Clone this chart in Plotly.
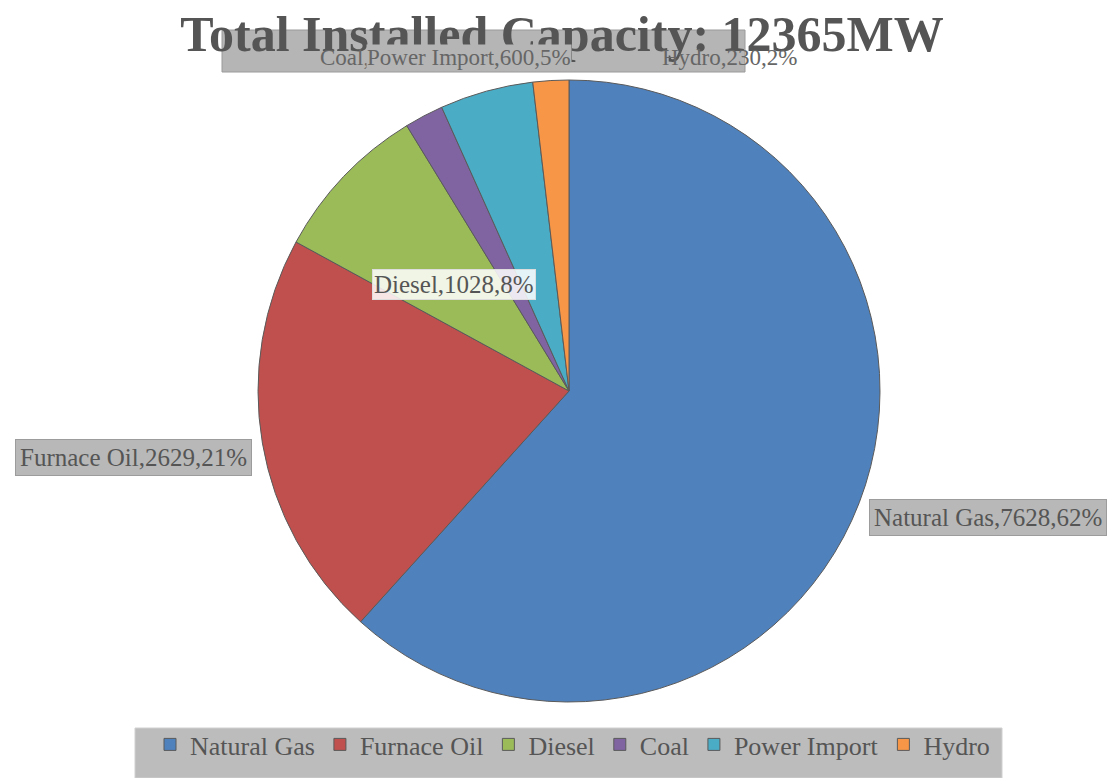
import plotly.graph_objects as go

categories = ["Natural Gas", "Furnace Oil", "Diesel", "Coal", "Power Import", "Hydro"]
capacity_mw = [7628, 2629, 1028, 250, 600, 230]
colors = ["#4F81BD", "#C0504D", "#9BBB59", "#8064A2", "#4BACC6", "#F79646"]
title_text = "Total Installed Capacity: 12365MW"

W, H = 1112, 778
total = sum(capacity_mw)
pct = [round(v * 100 / total) for v in capacity_mw]
label_text = [f"{c},{v},{p}%" for c, v, p in zip(categories, capacity_mw, pct)]

def px(x):
    return x / W

def py(y):
    return 1 - y / H

fig = go.Figure()
fig.add_trace(go.Pie(
    labels=categories,
    values=capacity_mw,
    sort=False,
    direction="clockwise",
    rotation=0,
    marker=dict(colors=colors, line=dict(color="#5a5a5a", width=1)),
    textinfo="none",
    hoverinfo="label+value+percent",
    domain=dict(x=[px(258), px(880)], y=[py(702), py(80)]),
))

serif = "Liberation Serif"
shapes = [
    # top cluttered label box
    dict(type="rect", xref="paper", yref="paper", x0=px(222), x1=px(745), y0=py(72), y1=py(30),
         fillcolor="#b5b5b5", line=dict(color="#9a9a9a", width=1), layer="below"),
    # legend box
    dict(type="rect", xref="paper", yref="paper", x0=px(135), x1=px(1002), y0=py(778), y1=py(728),
         fillcolor="#bcbcbc", line=dict(color="#d0d0d0", width=1), layer="below"),
]

annotations = []
box_font = dict(family=serif, size=25, color="#555555")
# Natural Gas
annotations.append(dict(text=label_text[0], x=px(988), y=py(517), xref="paper", yref="paper",
                        xanchor="center", yanchor="middle",
                        showarrow=False, font=box_font,
                        bgcolor="#b8b8b8", bordercolor="#9c9c9c", borderwidth=1, borderpad=4))
# Furnace Oil
annotations.append(dict(text=label_text[1], x=px(133), y=py(457), xref="paper", yref="paper",
                        xanchor="center", yanchor="middle",
                        showarrow=False, font=box_font,
                        bgcolor="#b8b8b8", bordercolor="#9c9c9c", borderwidth=1, borderpad=4))
# Diesel
annotations.append(dict(text=label_text[2], x=px(454), y=py(284), xref="paper", yref="paper",
                        xanchor="center", yanchor="middle",
                        showarrow=False, font=box_font,
                        bgcolor="rgba(255,255,255,0.85)", bordercolor="#dddddd", borderwidth=1, borderpad=1))
# Coal, Power Import, Hydro (crowded at top)
top_font = dict(family=serif, size=23, color="#666666")
annotations.append(dict(text=label_text[3], x=px(318), y=py(57), xref="paper", yref="paper",
                        xanchor="left", yanchor="middle", showarrow=False, font=top_font))
annotations.append(dict(text=label_text[4], x=px(366), y=py(57), xref="paper", yref="paper",
                        xanchor="left", yanchor="middle", showarrow=False, font=top_font,
                        bgcolor="#b5b5b5", borderpad=0))
annotations.append(dict(text=label_text[5], x=px(660), y=py(57), xref="paper", yref="paper",
                        xanchor="left", yanchor="middle", showarrow=False, font=top_font))

fig.update_layout(
    width=W, height=H,
    margin=dict(l=0, r=0, t=0, b=0),
    paper_bgcolor="white",
    plot_bgcolor="white",
    title=dict(text=f"<b>{title_text}</b>", x=px(562), xanchor="center", y=py(33), yanchor="middle",
               font=dict(family=serif, size=50, color="#555555")),
    showlegend=True,
    legend=dict(orientation="h", x=px(150), y=py(721), xanchor="left", yanchor="top",
                bgcolor="rgba(0,0,0,0)", font=dict(family=serif, size=26, color="#555555"),
                traceorder="normal", itemwidth=30),
    shapes=shapes,
    annotations=annotations,
)

fig.write_html("out.html")
